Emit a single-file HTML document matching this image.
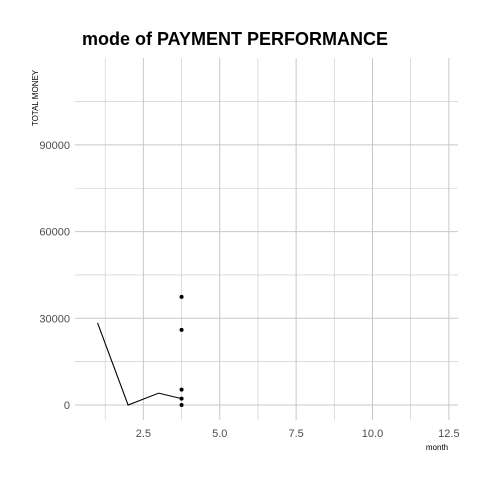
<!DOCTYPE html>
<html><head><meta charset="utf-8"><style>
body{margin:0;background:#fff;font-family:"Liberation Sans",sans-serif}
svg text{font-family:"Liberation Sans",sans-serif}
</style></head><body>
<svg id="c" width="480" height="480">
<text x="82" y="45" font-size="18" font-weight="bold" fill="#000">mode of PAYMENT PERFORMANCE</text>
<text transform="translate(38,98) rotate(-90)" text-anchor="middle" font-size="8" fill="#000">TOTAL MONEY</text>
<text x="437" y="450" text-anchor="middle" font-size="8" fill="#000">month</text>
<g id="grid"></g><g id="marks"></g>
</svg>
<script>
const xTicks=[2.5,5.0,7.5,10.0,12.5];
const xTickLabels=["2.5","5.0","7.5","10.0","12.5"];
const yTicks=[0,30000,60000,90000];
const yTickLabels=["0","30000","60000","90000"];
const lineMonths=[1,2,3,3.75];
const lineValues=[28400,0,4100,2200];
const pointMonths=[3.75,3.75,3.75,3.75,3.75];
const pointValues=[37400,26000,5300,2200,0];
const NS="http://www.w3.org/2000/svg";
const X=v=>67+v*30.55, Y=v=>405-v*86.7/30000;
const L=75,R=458,T=58,B=420;
const g=document.getElementById('grid'),m=document.getElementById('marks');
function mk(p,tag,a){const e=document.createElementNS(NS,tag);for(const k in a)e.setAttribute(k,a[k]);p.appendChild(e);return e;}
for(let v=1.25;v<=13;v+=1.25){
 const l=mk(g,'line',{x1:X(v),x2:X(v),y1:T,y2:B,stroke:'#c8c8c8','stroke-width':v%2.5===0?1:0.6});
 
 
}
for(let v=0;v<=105000;v+=15000){
 const l=mk(g,'line',{x1:L,x2:R,y1:Y(v),y2:Y(v),stroke:'#c8c8c8','stroke-width':v%30000===0?1:0.6});
 
 
}
xTicks.forEach((v,i)=>{const t=mk(g,'text',{x:X(v),y:437,'text-anchor':'middle','font-size':11,fill:'#4d4d4d'});t.textContent=xTickLabels[i];
 
 });
yTicks.forEach((v,i)=>{const t=mk(g,'text',{x:70,y:Y(v)+4,'text-anchor':'end','font-size':11,fill:'#4d4d4d'});t.textContent=yTickLabels[i];
 
 });
const pl=mk(m,'polyline',{points:lineMonths.map((v,i)=>X(v)+','+Y(lineValues[i])).join(' '),fill:'none',stroke:'#000','stroke-width':1.1});


pointMonths.forEach((v,i)=>{const c=mk(m,'circle',{cx:X(v),cy:Y(pointValues[i]),r:2,fill:'#000'});
 
 });
</script>
</body></html>
